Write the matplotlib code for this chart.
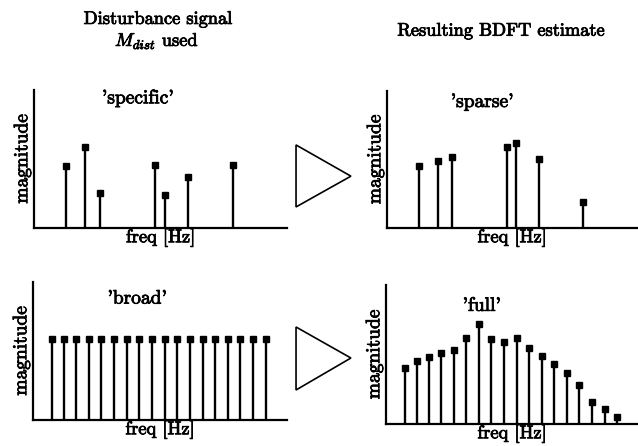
import matplotlib
matplotlib.use("Agg")
import matplotlib.pyplot as plt
from matplotlib.patches import Polygon
import matplotlib.patheffects as pe

plt.rcParams['font.family'] = ['cmr10', 'DejaVu Serif']
plt.rcParams['mathtext.fontset'] = 'cm'
plt.rcParams['axes.formatter.use_mathtext'] = True

# ---- data (x as % of axis span, magnitude as % of axis height) ----
sparse_freq = [12.6, 20.2, 26.1, 47.8, 51.7, 60.8, 78.5]
specific_mag = [45, 59, 25, 46, 24, 37, 46]
sparse_mag = [45, 49, 52, 59, 62, 50, 19]

bins_freq = [7.4, 12.2, 17.1, 22.0, 26.9, 31.9, 36.9, 41.8, 46.8,
             51.8, 56.9, 61.8, 66.8, 71.7, 76.7, 81.7, 86.8, 91.7]
broad_mag = [59] * 18
full_mag = [40, 45, 48, 51, 53, 62, 72, 61, 59, 62, 55, 49, 43, 37, 28, 16, 11, 5]

panel_labels = ["'specific'", "'sparse'", "'broad'", "'full'"]

bold = [pe.withStroke(linewidth=0.6, foreground='black')]

fig = plt.figure(figsize=(6.38, 4.46), dpi=100)

rects = [
    [0.0533, 0.4888, 0.3966, 0.3094],
    [0.6066, 0.4888, 0.3920, 0.3072],
    [0.0517, 0.0583, 0.3980, 0.3094],
    [0.6050, 0.0493, 0.3950, 0.3117],
]
datasets = [
    (sparse_freq, specific_mag),
    (sparse_freq, sparse_mag),
    (bins_freq, broad_mag),
    (bins_freq, full_mag),
]
label_pos = [(0.41, 0.94), (0.38, 0.92), (0.41, 0.88), (0.38, 0.85)]

for rect, (fx, fy), lab, lp in zip(rects, datasets, panel_labels, label_pos):
    ax = fig.add_axes(rect)
    ml, sl, bl = ax.stem(fx, fy, basefmt=' ')
    plt.setp(sl, color='black', linewidth=1.7)
    plt.setp(ml, color='black', marker='s', markersize=5)
    ax.set_xlim(0, 100)
    ax.set_ylim(0, 100)
    for s in ['top', 'right']:
        ax.spines[s].set_visible(False)
    for s in ['left', 'bottom']:
        ax.spines[s].set_linewidth(1.6)
    ax.set_xticks([])
    ax.set_yticks([])
    xl = ax.set_xlabel('freq [Hz]', fontsize=13.3, labelpad=1)
    yl = ax.set_ylabel('magnitude', fontsize=14, labelpad=2)
    xl.set_path_effects(bold)
    yl.set_path_effects(bold)
    t = ax.text(lp[0], lp[1], lab, transform=ax.transAxes, fontsize=14,
                ha='center', va='center')
    t.set_path_effects(bold)

for x, y, s in [(158 / 638, 1 - 19 / 446, 'Disturbance signal'),
                (157 / 638, 1 - 41 / 446, r'$M_{dist}$ used'),
                (501 / 638, 1 - 31 / 446, 'Resulting BDFT estimate')]:
    t = fig.text(x, y, s, fontsize=13.2, ha='center', va='center')
    t.set_path_effects(bold)

for tri in ([(0.464, 0.675), (0.464, 0.536), (0.550, 0.605)],
            [(0.464, 0.2668), (0.464, 0.1256), (0.550, 0.1973)]):
    fig.patches.append(Polygon(tri, closed=True, fill=False, edgecolor='black',
                               linewidth=1.2, transform=fig.transFigure))

fig.savefig('out.png', dpi=100)
